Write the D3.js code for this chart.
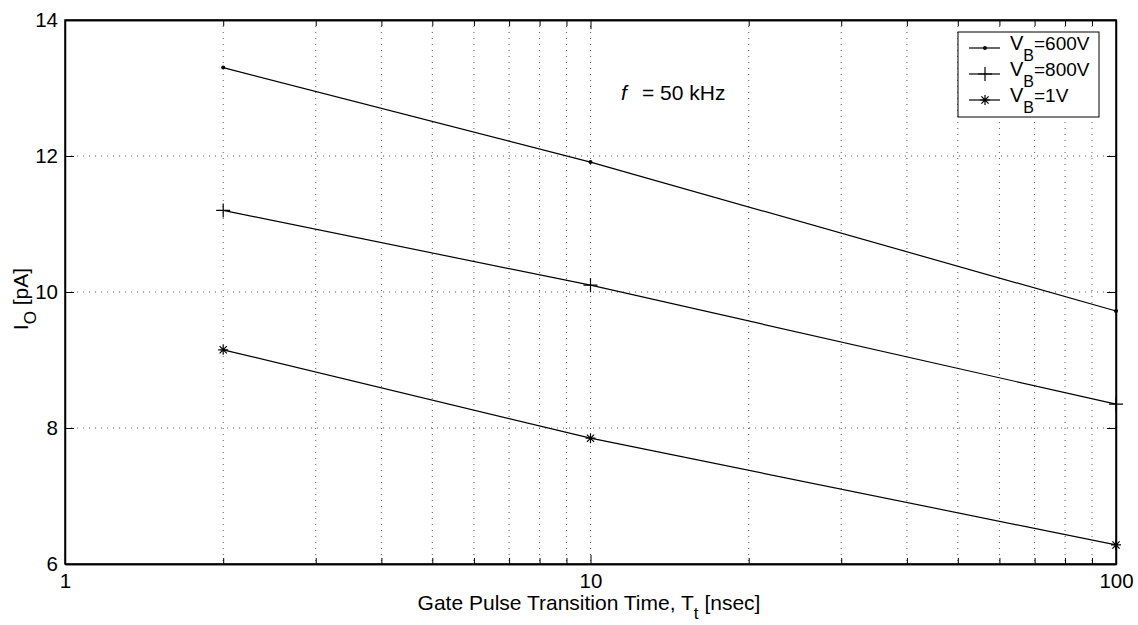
<!DOCTYPE html>
<html><head><meta charset="utf-8">
<script src="https://cdn.jsdelivr.net/npm/d3@7"></script>
<style>body{margin:0;background:#fff}svg{display:block}text{font-family:"Liberation Sans",Arial,sans-serif;fill:#000}</style>
</head><body><svg id="c" width="1138" height="625"></svg>
<script>
const xValues = [2, 10, 100];
const series600 = [13.30, 11.91, 9.72];
const series800 = [11.20, 10.10, 8.35];
const series1 = [9.15, 7.85, 6.28];
const seriesNames = ["600V", "800V", "1V"];
const markers = ["dot", "plus", "star"];
const yTicks = [6, 8, 10, 12, 14];
const xTicks = [1, 10, 100];

const svg = d3.select("#c");
const L = 65, R = 1116, T = 20, B = 564;
const x = d3.scaleLog().domain([1, 100]).range([L, R]);
const y = d3.scaleLinear().domain([6, 14]).range([B, T]);
const fs = 20.5;

const minor = [];
for (let d = 1; d <= 10; d *= 10) for (let k = 2; k <= 9; k++) minor.push(d * k);

// grid
const g = svg.append("g").attr("stroke", "#000").attr("stroke-width", 1).attr("stroke-dasharray", "1,5").attr("opacity", 0.65);
[...minor, 10].forEach(v => g.append("line").attr("x1", x(v)).attr("x2", x(v)).attr("y1", T).attr("y2", B));
[8, 10, 12].forEach(v => g.append("line").attr("x1", L).attr("x2", R).attr("y1", y(v)).attr("y2", y(v)));

// axes with inward ticks
const axB = d3.axisBottom(x).tickValues(xTicks).tickFormat(d3.format("d")).tickSizeInner(-9).tickSizeOuter(0).tickPadding(9);
const axBm = d3.axisBottom(x).tickValues(minor).tickFormat("").tickSizeInner(-6).tickSizeOuter(0);
const axT = d3.axisTop(x).tickValues(xTicks).tickFormat("").tickSizeInner(-9).tickSizeOuter(0);
const axTm = d3.axisTop(x).tickValues(minor).tickFormat("").tickSizeInner(-6).tickSizeOuter(0);
const axL = d3.axisLeft(y).tickValues(yTicks).tickFormat(d3.format("d")).tickSizeInner(-9).tickSizeOuter(0).tickPadding(7);
const axR = d3.axisRight(y).tickValues(yTicks).tickFormat("").tickSizeInner(-9).tickSizeOuter(0);
function style(sel){sel.selectAll("path").attr("stroke","#000").attr("stroke-width",1.5);sel.selectAll("line").attr("stroke","#000");sel.selectAll("text").attr("font-size",fs).attr("font-family","Liberation Sans, Arial, sans-serif");}
style(svg.append("g").attr("transform",`translate(0,${B})`).call(axB));
style(svg.append("g").attr("transform",`translate(0,${B})`).call(axBm));
style(svg.append("g").attr("transform",`translate(0,${T})`).call(axT));
style(svg.append("g").attr("transform",`translate(0,${T})`).call(axTm));
style(svg.append("g").attr("transform",`translate(${L},0)`).call(axL));
style(svg.append("g").attr("transform",`translate(${R},0)`).call(axR));
svg.append("rect").attr("x",L).attr("y",T).attr("width",R-L).attr("height",B-T).attr("fill","none").attr("stroke","#000").attr("stroke-width",1.5);

function drawMarker(gg, type, cx, cy){
  if(type==="dot"){gg.append("circle").attr("cx",cx).attr("cy",cy).attr("r",2).attr("fill","#000");}
  else if(type==="plus"){const s=7;gg.append("path").attr("d",`M${cx-s},${cy}H${cx+s}M${cx},${cy-s}V${cy+s}`).attr("stroke","#000").attr("stroke-width",1.2);}
  else {const s=5,d=3.6;gg.append("path").attr("d",`M${cx-s},${cy}H${cx+s}M${cx},${cy-s}V${cy+s}M${cx-d},${cy-d}L${cx+d},${cy+d}M${cx-d},${cy+d}L${cx+d},${cy-d}`).attr("stroke","#000").attr("stroke-width",1.2);}
}
const allSeries = [series600, series800, series1];
const line = d3.line().x((d,i)=>x(xValues[i])).y(d=>y(d));
allSeries.forEach((s, k) => {
  svg.append("path").datum(s).attr("d", line).attr("fill","none").attr("stroke","#000").attr("stroke-width",1.2);
  const mg = svg.append("g");
  s.forEach((v,i)=>drawMarker(mg, markers[k], x(xValues[i]), y(v)));
});

// legend
const lg = svg.append("g");
lg.append("rect").attr("x",958).attr("y",32).attr("width",141).attr("height",85).attr("fill","#fff").attr("stroke","#000").attr("stroke-width",1);
const rows = [48, 74, 100];
seriesNames.forEach((n,k)=>{
  lg.append("line").attr("x1",969).attr("x2",1000).attr("y1",rows[k]).attr("y2",rows[k]).attr("stroke","#000").attr("stroke-width",1.2);
  drawMarker(lg, markers[k], 985, rows[k]);
  const t = lg.append("text").attr("x",1010).attr("y",rows[k]+2).attr("font-size",20);
  t.append("tspan").text("V");
  t.append("tspan").attr("dy",11).attr("font-size",16).text("B");
  t.append("tspan").attr("dy",-11).attr("font-size",19).text("=" + n);
});

// annotation
const ann = svg.append("text").attr("x",621).attr("y",100).attr("font-size",21);
ann.append("tspan").attr("font-style","italic").text("f");
ann.append("tspan").attr("x",642).text("= 50 kHz");

// axis labels
const xl = svg.append("text").attr("x",589).attr("y",610).attr("text-anchor","middle").attr("font-size",21);
xl.append("tspan").text("Gate Pulse Transition Time, T");
xl.append("tspan").attr("dy",9).attr("font-size",17).text("t");
xl.append("tspan").attr("dy",-9).text(" [nsec]");
const yl = svg.append("text").attr("transform","translate(28,299) rotate(-90)").attr("text-anchor","middle").attr("font-size",21);
yl.append("tspan").text("I");
yl.append("tspan").attr("dy",8).attr("font-size",17).text("O");
yl.append("tspan").attr("dy",-8).text(" [pA]");
</script></body></html>
